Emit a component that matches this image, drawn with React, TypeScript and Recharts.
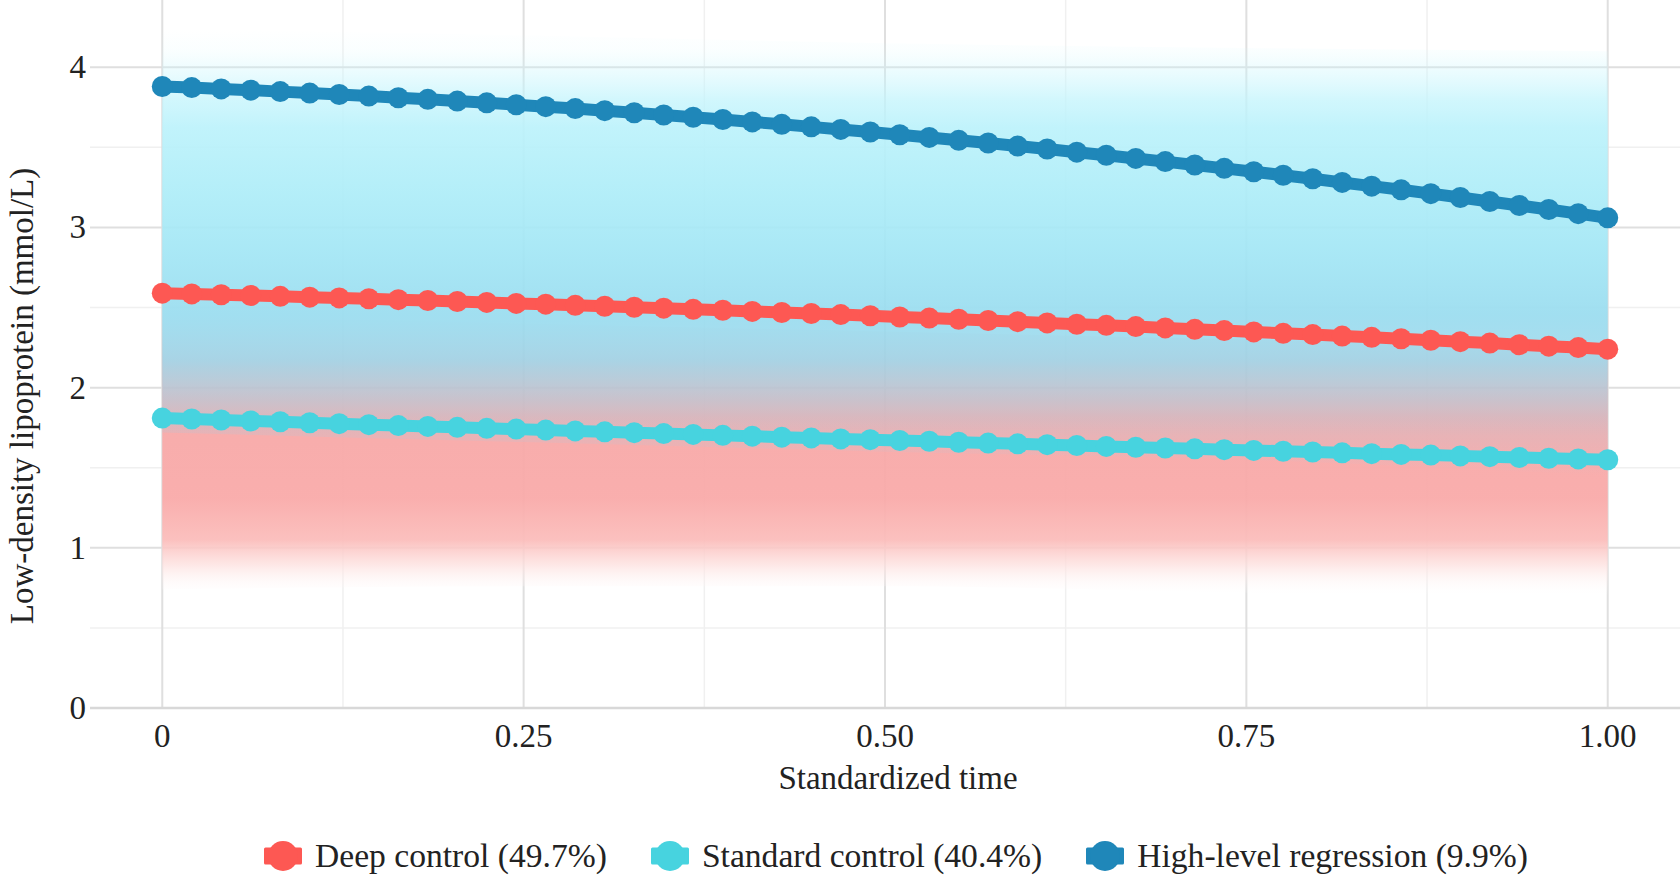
import React from 'react'
import { ComposedChart, Line, Area, XAxis, YAxis, CartesianGrid } from 'recharts'

// standardized time, 50 evaluation points
const times = [
  0, 0.0204, 0.0408, 0.0612, 0.0816, 0.102, 0.1224, 0.1429, 0.1633, 0.1837,
  0.2041, 0.2245, 0.2449, 0.2653, 0.2857, 0.3061, 0.3265, 0.3469, 0.3673, 0.3878,
  0.4082, 0.4286, 0.449, 0.4694, 0.4898, 0.5102, 0.5306, 0.551, 0.5714, 0.5918,
  0.6122, 0.6327, 0.6531, 0.6735, 0.6939, 0.7143, 0.7347, 0.7551, 0.7755, 0.7959,
  0.8163, 0.8367, 0.8571, 0.8776, 0.898, 0.9184, 0.9388, 0.9592, 0.9796, 1,
]

const deepControl = [
  2.59, 2.585, 2.58, 2.575, 2.57, 2.565, 2.56, 2.555, 2.549, 2.544,
  2.538, 2.532, 2.526, 2.521, 2.514, 2.508, 2.502, 2.496, 2.489, 2.483,
  2.476, 2.469, 2.463, 2.456, 2.449, 2.441, 2.434, 2.427, 2.419, 2.412,
  2.404, 2.396, 2.389, 2.381, 2.373, 2.364, 2.356, 2.348, 2.339, 2.331,
  2.322, 2.314, 2.305, 2.296, 2.287, 2.278, 2.268, 2.259, 2.25, 2.24,
]

const standardControl = [
  1.81, 1.804, 1.798, 1.792, 1.787, 1.781, 1.775, 1.769, 1.763, 1.758,
  1.752, 1.746, 1.741, 1.735, 1.73, 1.724, 1.719, 1.713, 1.708, 1.702,
  1.697, 1.691, 1.686, 1.68, 1.675, 1.67, 1.665, 1.659, 1.654, 1.649,
  1.644, 1.639, 1.633, 1.628, 1.623, 1.618, 1.613, 1.608, 1.603, 1.598,
  1.593, 1.588, 1.583, 1.579, 1.574, 1.569, 1.564, 1.559, 1.555, 1.55,
]

const highRegression = [
  3.88, 3.873, 3.865, 3.857, 3.848, 3.839, 3.83, 3.82, 3.81, 3.8,
  3.789, 3.778, 3.766, 3.754, 3.742, 3.729, 3.716, 3.702, 3.688, 3.674,
  3.659, 3.644, 3.628, 3.612, 3.596, 3.579, 3.562, 3.544, 3.527, 3.508,
  3.49, 3.47, 3.451, 3.431, 3.411, 3.39, 3.369, 3.348, 3.326, 3.304,
  3.281, 3.258, 3.235, 3.211, 3.187, 3.162, 3.137, 3.112, 3.086, 3.06,
]

// shaded bands behind the trajectories
const bandTimes = [0, 0.25, 0.5, 0.75, 1]
const blueUpper = [4.24, 4.2, 4.15, 4.12, 4.1]
const blueLower = [1.72, 1.66, 1.6, 1.55, 1.45]
const redUpper = [2.45, 2.4, 2.35, 2.3, 2.25]
const redLower = [0.74, 0.76, 0.76, 0.72, 0.7]

const xTicks = [0, 0.25, 0.5, 0.75, 1]
const xTickLabels = ['0', '0.25', '0.50', '0.75', '1.00']
const yTicks = [0, 1, 2, 3, 4]

const series = [
  { key: 'deep', name: 'Deep control (49.7%)', color: '#fd5853' },
  { key: 'standard', name: 'Standard control (40.4%)', color: '#47d3df' },
  { key: 'high', name: 'High-level regression (9.9%)', color: '#1f87b9' },
]

const rows = times.map((t, i) => ({
  t,
  deep: deepControl[i],
  standard: standardControl[i],
  high: highRegression[i],
}))

const bandRows = bandTimes.map((t, i) => ({
  t,
  blue: [blueLower[i], blueUpper[i]],
  red: [redLower[i], redUpper[i]],
}))

const FONT = '"Liberation Serif", "Times New Roman", serif'
const TEXT = '#222'

function XTick({ x, y, payload }: any) {
  const idx = xTicks.indexOf(payload.value)
  return (
    <text x={x} y={y + 39} textAnchor="middle" fontFamily={FONT} fontSize={33} fill={TEXT}>
      {idx >= 0 ? xTickLabels[idx] : payload.value}
    </text>
  )
}

function YTick({ x, y, payload }: any) {
  return (
    <text x={x - 4} y={y + 11} textAnchor="end" fontFamily={FONT} fontSize={33} fill={TEXT}>
      {payload.value}
    </text>
  )
}

function XTitle({ viewBox }: any) {
  return (
    <text x={898} y={viewBox.y + 81} textAnchor="middle" fontFamily={FONT} fontSize={33} fill={TEXT}>
      Standardized time
    </text>
  )
}

function YTitle() {
  return (
    <text
      x={33}
      y={396}
      transform="rotate(-90, 33, 396)"
      textAnchor="middle"
      fontFamily={FONT}
      fontSize={33}
      fill={TEXT}
    >
      Low-density lipoprotein (mmol/L)
    </text>
  )
}

function LegendIcon({ color }: { color: string }) {
  return (
    <svg width={38} height={30} style={{ marginRight: 13, display: 'block' }}>
      <rect x={0} y={6.5} width={38} height={17} rx={1.5} fill={color} />
      <circle cx={19} cy={15} r={15} fill={color} />
    </svg>
  )
}

export default function App() {
  return (
    <div style={{ position: 'relative', width: 1680, height: 880, background: '#fff' }}>
      <style>{'body{margin:0}'}</style>
      <ComposedChart width={1680} height={880} data={rows} margin={{ top: 0, right: 0, left: 0, bottom: 0 }}>
        <defs>
          <linearGradient id="blueBand" x1="0" y1="0" x2="0" y2="1">
            <stop offset="0" stopColor="#d2f8fd" stopOpacity={0} />
            <stop offset="0.05" stopColor="#cff8fd" stopOpacity={0.12} />
            <stop offset="0.1" stopColor="#c8f6fd" stopOpacity={0.42} />
            <stop offset="0.16" stopColor="#c2f4fc" stopOpacity={0.82} />
            <stop offset="0.22" stopColor="#bcf2fb" stopOpacity={1} />
            <stop offset="0.36" stopColor="#aeedf8" stopOpacity={1} />
            <stop offset="0.5" stopColor="#a2e6f5" stopOpacity={1} />
            <stop offset="0.64" stopColor="#99dcef" stopOpacity={1} />
            <stop offset="0.74" stopColor="#98d5ea" stopOpacity={0.9} />
            <stop offset="0.83" stopColor="#9ccfe3" stopOpacity={0.55} />
            <stop offset="0.91" stopColor="#a8cbdf" stopOpacity={0.22} />
            <stop offset="1" stopColor="#a8cbdf" stopOpacity={0} />
          </linearGradient>
          <linearGradient id="redBand" x1="0" y1="0" x2="0" y2="1">
            <stop offset="0" stopColor="#f6a9a9" stopOpacity={0} />
            <stop offset="0.18" stopColor="#f5a9a9" stopOpacity={0.7} />
            <stop offset="0.36" stopColor="#f7a8a7" stopOpacity={1} />
            <stop offset="0.65" stopColor="#f9aaa9" stopOpacity={1} />
            <stop offset="0.8" stopColor="#fbbdbb" stopOpacity={1} />
            <stop offset="0.89" stopColor="#fde0de" stopOpacity={0.8} />
            <stop offset="1" stopColor="#ffffff" stopOpacity={0} />
          </linearGradient>
        </defs>
        <CartesianGrid
          horizontalValues={[0.5, 1.5, 2.5, 3.5]}
          verticalValues={[0.125, 0.375, 0.625, 0.875]}
          stroke="#f0f0f0"
          strokeWidth={1.5}
        />
        <CartesianGrid
          horizontalValues={[1, 2, 3, 4]}
          verticalValues={xTicks}
          stroke="#dfdfdf"
          strokeWidth={2}
        />
        <XAxis
          dataKey="t"
          type="number"
          domain={[-0.05, 1.05]}
          ticks={xTicks}
          allowDataOverflow
          height={172}
          tickLine={false}
          tickSize={0}
          tickMargin={0}
          axisLine={{ stroke: '#d8d8d8', strokeWidth: 2.5 }}
          tick={<XTick />}
          label={<XTitle />}
        />
        <YAxis
          type="number"
          domain={[0, 4.42]}
          ticks={yTicks}
          allowDataOverflow
          width={90}
          axisLine={false}
          tickLine={false}
          tickSize={0}
          tickMargin={0}
          tick={<YTick />}
          label={<YTitle />}
        />
        <Area
          data={bandRows}
          dataKey="red"
          type="monotone"
          stroke="none"
          fill="url(#redBand)"
          fillOpacity={0.95}
          isAnimationActive={false}
          activeDot={false}
        />
        <Area
          data={bandRows}
          dataKey="blue"
          type="monotone"
          stroke="none"
          fill="url(#blueBand)"
          fillOpacity={0.92}
          isAnimationActive={false}
          activeDot={false}
        />
        {[series[2], series[0], series[1]].map((s) => (
          <Line
            key={s.key}
            dataKey={s.key}
            name={s.name}
            type="linear"
            stroke={s.color}
            strokeWidth={12}
            dot={{ r: 10.5, fill: s.color, stroke: s.color, strokeWidth: 0 }}
            activeDot={false}
            isAnimationActive={false}
          />
        ))}
      </ComposedChart>
      <div
        style={{
          position: 'absolute',
          left: 0,
          top: 836,
          width: 1680,
          height: 40,
          paddingLeft: 112,
          boxSizing: 'border-box',
          display: 'flex',
          justifyContent: 'center',
          alignItems: 'center',
          fontFamily: FONT,
          fontSize: 33.6,
          lineHeight: '40px',
          color: TEXT,
          whiteSpace: 'nowrap',
        }}
      >
        {series.map((s, i) => (
          <div
            key={s.key}
            style={{ display: 'flex', alignItems: 'center', marginRight: i < series.length - 1 ? 44 : 0 }}
          >
            <LegendIcon color={s.color} />
            <span>{s.name}</span>
          </div>
        ))}
      </div>
    </div>
  )
}
